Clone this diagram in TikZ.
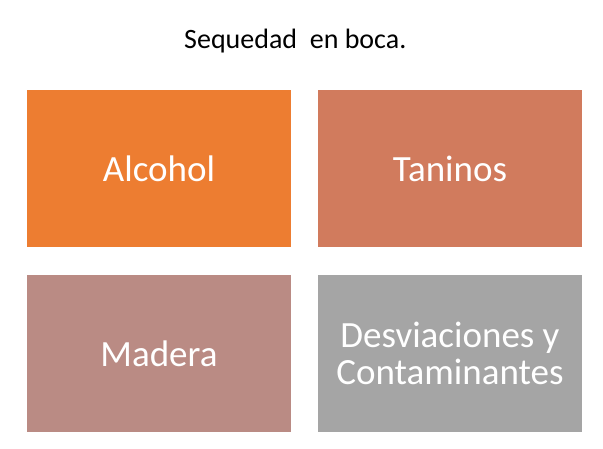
\documentclass[tikz,border=0pt]{standalone}
\usepackage{fontspec}
\setmainfont{Carlito}
\usepackage{tikz}
\usetikzlibrary{positioning}
\definecolor{alcoholorange}{HTML}{ED7D31}
\definecolor{taninosred}{HTML}{D17B5D}
\definecolor{maderarose}{HTML}{BA8B84}
\definecolor{desvgray}{HTML}{A5A5A5}
\tikzset{
  factor/.style={minimum width=264pt, minimum height=157pt, inner sep=0pt, outer sep=0pt,
    text=white, align=center, font=\fontsize{37}{37.5}\selectfont}
}

\begin{document}
\begin{tikzpicture}[x=1pt,y=-1pt]
\useasboundingbox (0,0) rectangle (603,448);
\node[anchor=base, font=\fontsize{28}{30}\selectfont] (title) at (295.3,48.3) {Sequedad~ en boca.};
\node[factor, fill=alcoholorange] (alcohol) at (159,168.5) {Alcohol};
\node[factor, fill=taninosred, right=27pt of alcohol] (taninos) {Taninos};
\node[factor, fill=maderarose, below=28pt of alcohol] (madera) {Madera};
\node[factor, fill=desvgray, right=27pt of madera] (desviaciones) {Desviaciones y\\Contaminantes};
\end{tikzpicture}
\end{document}
